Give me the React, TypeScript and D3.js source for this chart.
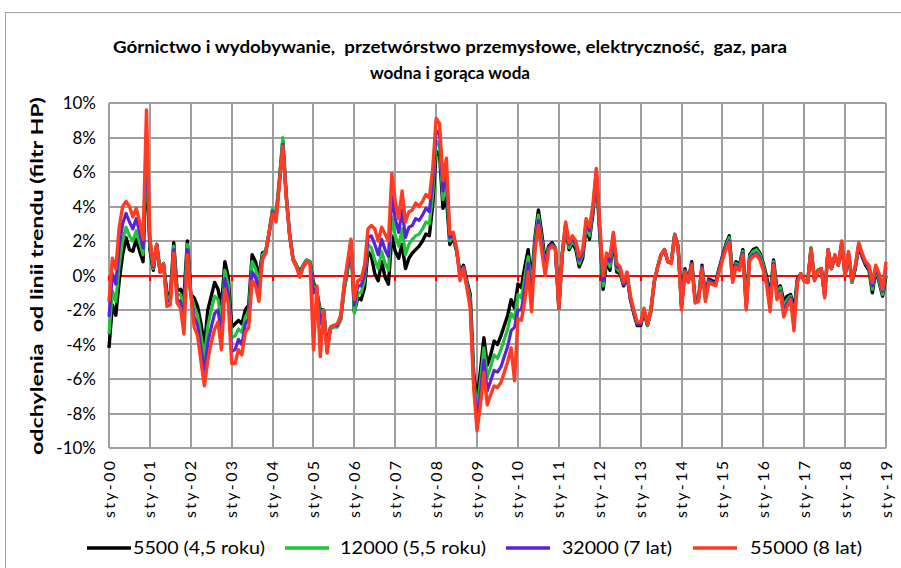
import React from "react";
import * as d3 from "d3";

// monthly deviations from HP trend (%), sty-00 .. sty-19
const s5500 = [
  -4.2, -1.7, -2.3, -0.3, 1.2, 2.2, 1.5, 1.4, 2.1, 1.4, 0.8, 6.8,
  1.5, 0.3, 1.8, 0.2, 0.7, -1.0, -1.2, 1.9, -0.9, -0.8, -1.2, 2.0,
  -1.1, -1.3, -1.8, -2.8, -4.1, -2.0, -1.2, -0.4, -0.8, -1.8, 0.8, -0.1,
  -3.0, -2.8, -2.6, -2.8, -2.0, -1.7, 1.2, 0.8, -0.1, 1.3, 1.4, 2.5,
  3.8, 3.4, 5.5, 7.8, 4.7, 2.4, 1.0, 0.6, 0.2, 0.6, 0.9, 0.8,
  -0.4, -1.0, -2.0, -2.0, -4.2, -3.0, -2.9, -2.9, -2.5, -0.8, 0.3, 2.0,
  -2.1, -1.3, -1.4, -0.7, 1.4, 1.1, 0.1, -0.3, 0.8, -0.1, -0.5, 2.3,
  1.4, 1.0, 1.8, 0.4, 1.0, 1.3, 1.5, 1.7, 2.0, 2.4, 2.3, 4.1,
  7.2, 7.0, 3.9, 4.6, 1.8, 2.2, 1.4, 0.2, 0.6, -0.3, -1.1, -5.6,
  -7.3, -5.5, -3.6, -5.2, -4.6, -3.8, -4.0, -3.5, -2.9, -2.3, -1.4, -1.9,
  -0.5, -0.7, 0.5, 1.5, -0.3, 2.2, 3.8, 2.4, 0.8, 1.7, 1.9, 1.6,
  -1.9, 1.2, 2.8, 1.5, 1.9, 1.5, 0.5, 1.0, 2.8, 2.1, 3.6, 5.8,
  2.4, -0.8, 0.8, 0.3, 2.1, 0.2, 0.1, -0.6, 0.0, -1.4, -2.2, -2.9,
  -2.9, -2.1, -2.9, -2.1, -0.4, 0.5, 1.2, 1.5, 0.8, 0.8, 2.4, 1.7,
  -1.7, 0.4, -0.3, 0.8, -1.4, -1.3, 0.6, -1.2, -0.2, -0.3, -0.4, 0.4,
  1.1, 1.8, 2.3, 0.0, 0.8, 0.6, 1.5, -1.6, 1.2, 1.5, 1.6, 1.3,
  0.7, -0.1, -1.2, 0.9, -0.8, -0.6, -1.5, -1.2, -1.1, -2.0, -0.2, 0.1,
  -0.3, -0.4, 1.6, -0.2, 0.3, 0.4, -1.1, 1.5, 0.4, 1.1, 0.6, 1.8,
  0.0, 1.2, -0.4, 0.4, 1.7, 1.1, 0.6, 0.3, -1.0, 0.3, -0.4, -1.2,
  0.0,
];

const s12000 = [
  -3.4, -0.9, -1.5, 0.6, 2.0, 2.8, 2.3, 2.0, 2.6, 1.9, 1.2, 7.3,
  1.7, 0.4, 1.8, 0.2, 0.7, -1.2, -1.4, 1.7, -1.1, -1.1, -1.9, 1.8,
  -1.1, -1.8, -2.3, -3.5, -4.8, -2.9, -2.0, -1.2, -1.4, -2.6, 0.3, -0.6,
  -3.6, -3.5, -3.1, -3.3, -2.4, -2.1, 0.8, 0.4, -0.5, 1.2, 1.4, 2.5,
  3.9, 3.5, 5.6, 8.0, 4.7, 2.4, 1.0, 0.6, 0.1, 0.6, 0.9, 0.8,
  -0.6, -0.9, -2.2, -2.0, -4.3, -3.1, -3.0, -3.0, -2.6, -0.9, 0.4, 2.0,
  -2.2, -1.0, -1.0, -0.3, 1.8, 1.6, 0.9, 0.4, 1.4, 0.7, 0.3, 3.4,
  2.3, 1.7, 2.7, 1.2, 1.8, 2.1, 2.3, 2.4, 2.7, 3.1, 3.0, 4.7,
  7.8, 7.5, 4.4, 5.3, 2.0, 2.3, 1.5, 0.1, 0.5, -0.4, -1.3, -5.9,
  -7.8, -6.1, -4.2, -5.9, -5.3, -4.6, -4.8, -4.3, -3.7, -3.1, -2.2, -2.5,
  -1.1, -1.3, -0.1, 1.1, -0.8, 2.0, 3.5, 2.1, 0.6, 1.6, 1.8, 1.6,
  -1.9, 1.2, 2.9, 1.6, 2.0, 1.7, 0.7, 1.2, 2.9, 2.3, 3.8, 5.9,
  2.6, -0.6, 1.0, 0.5, 2.2, 0.4, 0.2, -0.5, 0.1, -1.3, -2.1, -2.8,
  -2.8, -2.0, -2.9, -2.1, -0.4, 0.5, 1.2, 1.5, 0.8, 0.8, 2.4, 1.7,
  -1.8, 0.3, -0.3, 0.7, -1.5, -1.4, 0.5, -1.3, -0.3, -0.4, -0.5, 0.3,
  1.0, 1.7, 2.2, -0.1, 0.7, 0.5, 1.4, -1.7, 1.1, 1.4, 1.5, 1.2,
  0.6, -0.3, -1.5, 0.8, -1.0, -0.7, -1.8, -1.4, -1.2, -2.4, -0.3, 0.1,
  -0.3, -0.4, 1.6, -0.2, 0.3, 0.4, -1.2, 1.5, 0.4, 1.1, 0.6, 1.9,
  0.0, 1.3, -0.4, 0.5, 1.8, 1.2, 0.7, 0.4, -0.8, 0.4, -0.3, -1.1,
  0.2,
];

const s32000 = [
  -2.4, 0.1, -0.5, 1.7, 3.0, 3.6, 3.1, 2.7, 3.3, 2.5, 1.6, 7.9,
  2.0, 0.5, 1.8, 0.2, 0.6, -1.5, -1.5, 1.5, -1.4, -1.5, -2.6, 1.5,
  -1.1, -2.4, -2.9, -4.2, -5.6, -3.9, -3.0, -2.2, -2.0, -3.4, -0.2, -1.1,
  -4.4, -4.3, -3.7, -4.0, -2.8, -2.5, 0.2, -0.1, -1.0, 1.0, 1.3, 2.5,
  3.7, 3.2, 5.4, 7.6, 4.6, 2.3, 0.9, 0.5, 0.0, 0.5, 0.8, 0.7,
  -1.0, -0.7, -2.8, -2.1, -4.4, -3.0, -2.9, -2.9, -2.4, -0.6, 0.6, 2.0,
  -1.7, -0.6, -0.6, 0.1, 2.2, 2.3, 1.8, 1.2, 2.1, 1.5, 1.1, 4.6,
  3.3, 2.5, 3.8, 2.2, 2.8, 2.9, 3.3, 3.2, 3.5, 3.9, 3.7, 5.5,
  8.4, 8.2, 4.9, 6.0, 2.2, 2.4, 1.5, -0.1, 0.5, -0.6, -1.6, -6.2,
  -8.4, -6.8, -4.9, -6.7, -6.1, -5.5, -5.6, -5.3, -4.7, -4.1, -3.2, -3.0,
  -2.0, -2.0, -0.8, 0.7, -1.5, 1.7, 3.2, 1.8, 0.3, 1.6, 1.8, 1.5,
  -1.9, 1.3, 3.0, 1.8, 2.2, 1.8, 0.9, 1.3, 3.1, 2.6, 3.9, 6.1,
  2.8, -0.3, 1.1, 0.8, 2.4, 0.5, 0.4, -0.5, 0.1, -1.3, -2.1, -2.8,
  -2.8, -2.0, -2.8, -2.0, -0.3, 0.5, 1.2, 1.5, 0.8, 0.7, 2.3, 1.6,
  -1.9, 0.3, -0.4, 0.7, -1.5, -1.4, 0.5, -1.4, -0.3, -0.4, -0.5, 0.3,
  1.0, 1.6, 2.0, -0.3, 0.6, 0.4, 1.3, -1.9, 1.0, 1.2, 1.3, 1.0,
  0.4, -0.4, -1.8, 0.7, -1.2, -0.9, -2.1, -1.6, -1.3, -2.8, -0.3, 0.1,
  -0.3, -0.4, 1.5, -0.3, 0.2, 0.4, -1.2, 1.5, 0.4, 1.2, 0.6, 1.9,
  0.0, 1.3, -0.3, 0.5, 1.8, 1.2, 0.7, 0.5, -0.6, 0.5, -0.1, -0.9,
  0.5,
];

const s55000 = [
  -1.5, 1.0, 0.4, 2.8, 4.0, 4.3, 4.0, 3.4, 3.9, 3.1, 2.1, 9.6,
  2.2, 0.6, 1.8, 0.2, 0.6, -1.8, -1.7, 1.3, -1.6, -1.9, -3.4, 1.2,
  -1.1, -3.0, -3.5, -5.0, -6.4, -4.9, -3.9, -3.1, -2.7, -4.3, -0.8, -1.6,
  -5.1, -5.1, -4.3, -4.6, -3.3, -3.0, -0.3, -0.6, -1.5, 0.9, 1.3, 2.5,
  3.6, 3.1, 5.3, 7.5, 4.5, 2.3, 0.9, 0.5, -0.1, 0.5, 0.8, 0.7,
  -4.3, -0.6, -4.7, -2.1, -4.5, -3.0, -2.9, -2.8, -2.3, -0.5, 0.8, 2.1,
  -1.4, -0.3, -0.2, 0.6, 2.7, 2.9, 2.7, 2.0, 2.8, 2.4, 2.0, 5.9,
  4.3, 3.3, 4.9, 3.1, 3.7, 3.8, 4.2, 4.0, 4.3, 4.7, 4.5, 6.2,
  9.1, 8.8, 5.5, 6.8, 2.4, 2.5, 1.6, -0.3, 0.4, -0.7, -1.9, -6.5,
  -9.0, -7.5, -5.6, -7.5, -6.9, -6.4, -6.5, -6.2, -5.6, -5.0, -4.2, -6.1,
  -2.5, -2.6, -1.5, 0.2, -2.1, 1.4, 2.9, 1.4, 0.0, 1.5, 1.7, 1.5,
  -1.9, 1.3, 3.1, 1.9, 2.3, 2.0, 1.1, 1.5, 3.3, 2.8, 4.1, 6.2,
  3.0, 0.0, 1.3, 1.1, 2.5, 0.7, 0.5, -0.4, 0.2, -1.2, -2.0, -2.7,
  -2.7, -1.9, -2.8, -2.0, -0.3, 0.5, 1.2, 1.5, 0.8, 0.7, 2.3, 1.6,
  -2.0, 0.2, -0.4, 0.6, -1.6, -1.5, 0.4, -1.5, -0.4, -0.5, -0.6, 0.2,
  0.9, 1.5, 1.9, -0.4, 0.5, 0.3, 1.2, -2.0, 0.9, 1.1, 1.2, 0.9,
  0.3, -0.6, -2.1, 0.6, -1.4, -1.0, -2.4, -1.8, -1.4, -3.2, -0.4, 0.1,
  -0.3, -0.4, 1.5, -0.3, 0.2, 0.4, -1.3, 1.5, 0.4, 1.2, 0.6, 2.0,
  0.0, 1.4, -0.3, 0.6, 1.9, 1.3, 0.8, 0.6, -0.4, 0.6, 0.1, -0.8,
  0.8,
];

const yearLabels = [
  "sty-00", "sty-01", "sty-02", "sty-03", "sty-04", "sty-05", "sty-06",
  "sty-07", "sty-08", "sty-09", "sty-10", "sty-11", "sty-12", "sty-13",
  "sty-14", "sty-15", "sty-16", "sty-17", "sty-18", "sty-19",
];
const yTicks = [-10, -8, -6, -4, -2, 0, 2, 4, 6, 8, 10];

const seriesNames = ["5500 (4,5 roku)", "12000 (5,5 roku)", "32000 (7 lat)", "55000 (8 lat)"];

const W = 901;
const H = 568;
const left = 109;
const right = 886;
const top = 103;
const bottom = 448;
const font = "Lato, 'Open Sans', sans-serif";
const grid = "#9e9e9e";

const series = [
  { name: seriesNames[0], values: s5500, color: "#000000", width: 3.4 },
  { name: seriesNames[1], values: s12000, color: "#22c23a", width: 3.2 },
  { name: seriesNames[2], values: s32000, color: "#5a23d8", width: 3.2 },
  { name: seriesNames[3], values: s55000, color: "#ff3b22", width: 3.4 },
];

const legendPos = [
  { x: 87, tx: 133, len: 132 },
  { x: 285, tx: 340, len: 146 },
  { x: 506, tx: 562, len: 110 },
  { x: 693, tx: 750, len: 112 },
];

export default function App() {
  const n = s55000.length;
  const x = d3.scaleLinear().domain([0, n - 1]).range([left, right]);
  const y = d3.scaleLinear().domain([-10, 10]).range([bottom, top]);
  const line = d3
    .line<number>()
    .x((_, i) => x(i))
    .y((d) => y(d));

  const yearIdx = yearLabels.map((_, i) => i * 12);
  const snap = (v: number) => Math.round(v);
  const y0 = snap(y(0));

  return (
    <svg
      width={W}
      height={H}
      style={{ position: "absolute", left: 0, top: 0, background: "#fff" }}
      fontFamily={font}
    >
      <rect x={5.5} y={12.5} width={W + 10} height={H + 10} fill="#fff" stroke="#a0a0a0" />

      <text x={450} y={53} textAnchor="middle" fontWeight="bold" fontSize={17.5} textLength={674} lengthAdjust="spacingAndGlyphs" style={{ whiteSpace: "pre" }}>
        {"Górnictwo i wydobywanie,  przetwórstwo przemysłowe, elektryczność,  gaz, para"}
      </text>
      <text x={450} y={79} textAnchor="middle" fontWeight="bold" fontSize={17.5} textLength={160} lengthAdjust="spacingAndGlyphs">
        wodna i gorąca woda
      </text>

      {/* grid */}
      {yTicks.map((t) => (
        <line key={"h" + t} x1={left} x2={right} y1={snap(y(t))} y2={snap(y(t))} stroke={grid} strokeWidth={2} />
      ))}
      {yearIdx.map((i) => (
        <line key={"v" + i} x1={snap(x(i))} x2={snap(x(i))} y1={top} y2={bottom} stroke={grid} strokeWidth={2} />
      ))}

      {/* zero axis */}
      <line x1={left} x2={right} y1={y0} y2={y0} stroke="#ff0000" strokeWidth={2} />
      {yearIdx.map((i) => (
        <line key={"t" + i} x1={snap(x(i))} x2={snap(x(i))} y1={y0} y2={y0 + 5} stroke="#ff0000" strokeWidth={2} />
      ))}

      {series.map((s) => (
        <path
          key={s.name}
          d={line(s.values) || ""}
          fill="none"
          stroke={s.color}
          strokeWidth={s.width}
          strokeLinejoin="round"
        />
      ))}

      {yTicks.map((t) => (
        <text key={"yl" + t} x={96} y={y(t) + 6} textAnchor="end" fontSize={17}>
          {t + "%"}
        </text>
      ))}

      {yearLabels.map((lab, k) => (
        <text
          key={lab}
          transform={`translate(${x(yearIdx[k]) + 5.5},461) rotate(-90)`}
          textAnchor="end"
          fontSize={16}
          textLength={57}
          lengthAdjust="spacing"
        >
          {lab}
        </text>
      ))}

      <text
        transform="translate(43,276) rotate(-90)"
        textAnchor="middle"
        fontWeight="bold"
        fontSize={17}
        textLength={358}
        lengthAdjust="spacingAndGlyphs"
        style={{ whiteSpace: "pre" }}
      >
        {"odchylenia  od linii trendu (filtr HP)"}
      </text>

      {series.map((s, i) => (
        <g key={"lg" + i}>
          <line x1={legendPos[i].x} x2={legendPos[i].x + 44} y1={548} y2={548} stroke={s.color} strokeWidth={3.5} />
          <text x={legendPos[i].tx} y={554} fontSize={17} textLength={legendPos[i].len} lengthAdjust="spacingAndGlyphs">
            {s.name}
          </text>
        </g>
      ))}
    </svg>
  );
}
